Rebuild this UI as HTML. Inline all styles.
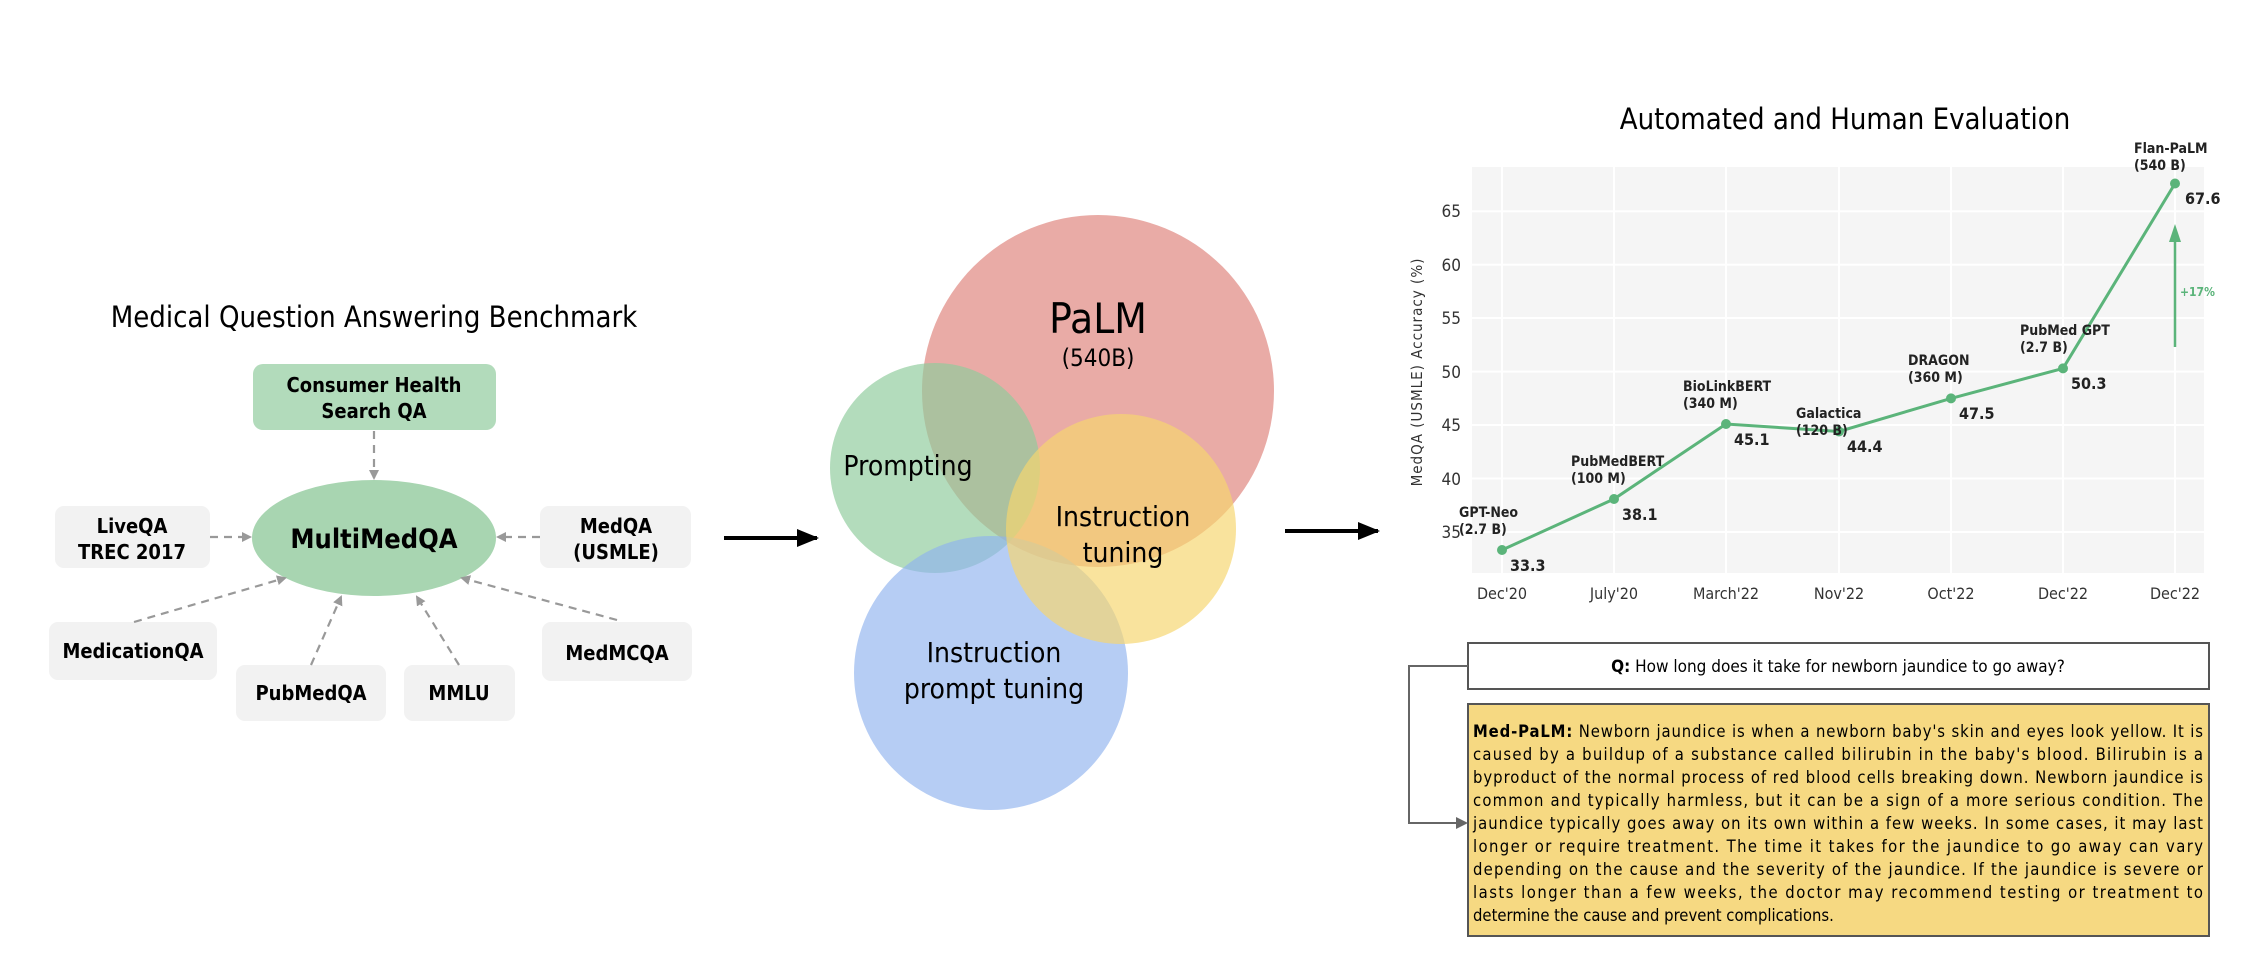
<!DOCTYPE html>
<html><head><meta charset="utf-8"><style>
html,body{margin:0;padding:0;background:#fff;}
svg{display:block;}
text{font-family:"DejaVu Sans Condensed","DejaVu Sans","Liberation Sans",sans-serif;}
</style></head><body>
<svg width="2256" height="960" viewBox="0 0 2256 960" xmlns="http://www.w3.org/2000/svg">
<defs>
<marker id="ga" markerWidth="10" markerHeight="10" refX="8" refY="5" orient="auto" markerUnits="userSpaceOnUse"><path d="M0,0 L10,5 L0,10 z" fill="#999"/></marker>
<marker id="ka" markerWidth="22" markerHeight="18" refX="20" refY="9" orient="auto" markerUnits="userSpaceOnUse"><path d="M0,0 L22,9 L0,18 z" fill="#000"/></marker>
<marker id="dk" markerWidth="12" markerHeight="12" refX="10" refY="6" orient="auto" markerUnits="userSpaceOnUse"><path d="M0,0 L12,6 L0,12 z" fill="#666"/></marker>
</defs>

<!-- Left panel -->
<text x="374" y="327" font-size="29" text-anchor="middle" fill="#000">Medical Question Answering Benchmark</text>
<rect x="253" y="364" width="243" height="66" rx="10" fill="#b2dbbb"/>
<text x="374" y="392" font-size="20" font-weight="bold" text-anchor="middle">Consumer Health</text>
<text x="374" y="418" font-size="20" font-weight="bold" text-anchor="middle">Search QA</text>
<ellipse cx="374" cy="538" rx="122" ry="58" fill="#a8d5b1"/>
<text x="374" y="548" font-size="27" font-weight="bold" text-anchor="middle">MultiMedQA</text>

<g fill="#f2f2f2">
<rect x="55" y="506" width="155" height="62" rx="9"/>
<rect x="540" y="506" width="151" height="62" rx="9"/>
<rect x="49" y="622" width="168" height="58" rx="9"/>
<rect x="236" y="665" width="150" height="56" rx="9"/>
<rect x="404" y="665" width="111" height="56" rx="9"/>
<rect x="542" y="622" width="150" height="59" rx="9"/>
</g>
<g font-size="20" font-weight="bold" text-anchor="middle">
<text x="132" y="533">LiveQA</text><text x="132" y="559">TREC 2017</text>
<text x="616" y="533">MedQA</text><text x="616" y="559">(USMLE)</text>
<text x="133" y="658">MedicationQA</text>
<text x="311" y="700">PubMedQA</text>
<text x="459" y="700">MMLU</text>
<text x="617" y="660">MedMCQA</text>
</g>
<g stroke="#999" stroke-width="2.2" stroke-dasharray="8,6" fill="none" marker-end="url(#ga)">
<line x1="374" y1="431" x2="374" y2="478"/>
<line x1="210" y1="537" x2="250" y2="537"/>
<line x1="540" y1="537" x2="498" y2="537"/>
<line x1="134" y1="622" x2="285" y2="578"/>
<line x1="311" y1="665" x2="341" y2="597"/>
<line x1="459" y1="665" x2="417" y2="597"/>
<line x1="617" y1="620" x2="462" y2="578"/>
</g>
<line x1="724" y1="538" x2="817" y2="538" stroke="#000" stroke-width="4" marker-end="url(#ka)"/>

<!-- Venn -->
<circle cx="1098" cy="391" r="176" fill="#e08a84" fill-opacity="0.72"/>
<circle cx="935" cy="468" r="105" fill="#8fcb9c" fill-opacity="0.68"/>
<circle cx="991" cy="673" r="137" fill="#8fb2ee" fill-opacity="0.65"/>
<circle cx="1121" cy="529" r="115" fill="#f6d56e" fill-opacity="0.68"/>
<text x="1098" y="333" font-size="42" text-anchor="middle">PaLM</text>
<text x="1098" y="366" font-size="24" text-anchor="middle">(540B)</text>
<text x="908" y="475" font-size="28" text-anchor="middle">Prompting</text>
<text x="1123" y="526" font-size="28" text-anchor="middle">Instruction</text>
<text x="1123" y="562" font-size="28" text-anchor="middle">tuning</text>
<text x="994" y="662" font-size="28" text-anchor="middle">Instruction</text>
<text x="994" y="698" font-size="28" text-anchor="middle">prompt tuning</text>
<line x1="1285" y1="531" x2="1378" y2="531" stroke="#000" stroke-width="4" marker-end="url(#ka)"/>

<!-- Chart -->
<text x="1845" y="129" font-size="29" text-anchor="middle">Automated and Human Evaluation</text>
<rect x="1472" y="167" width="732" height="406" fill="#f5f5f5"/>
<g stroke="#fff" stroke-width="2">
<line x1="1472" x2="2204" y1="532" y2="532"/><line x1="1472" x2="2204" y1="478.5" y2="478.5"/>
<line x1="1472" x2="2204" y1="425" y2="425"/><line x1="1472" x2="2204" y1="371.6" y2="371.6"/>
<line x1="1472" x2="2204" y1="318" y2="318"/><line x1="1472" x2="2204" y1="264.7" y2="264.7"/>
<line x1="1472" x2="2204" y1="211.3" y2="211.3"/>
<line x1="1502" x2="1502" y1="167" y2="573"/><line x1="1614" x2="1614" y1="167" y2="573"/>
<line x1="1726" x2="1726" y1="167" y2="573"/><line x1="1839" x2="1839" y1="167" y2="573"/>
<line x1="1951" x2="1951" y1="167" y2="573"/><line x1="2063" x2="2063" y1="167" y2="573"/>
<line x1="2175" x2="2175" y1="167" y2="573"/>
</g>
<g font-size="17" fill="#333" text-anchor="end">
<text x="1461" y="538">35</text><text x="1461" y="485">40</text><text x="1461" y="431">45</text>
<text x="1461" y="378">50</text><text x="1461" y="324">55</text><text x="1461" y="271">60</text><text x="1461" y="217">65</text>
</g>
<text transform="translate(1422,372) rotate(-90)" font-size="15" fill="#333" text-anchor="middle" letter-spacing="1">MedQA (USMLE) Accuracy (%)</text>
<g font-size="16" fill="#333" text-anchor="middle">
<text x="1502" y="599">Dec'20</text><text x="1614" y="599">July'20</text><text x="1726" y="599">March'22</text>
<text x="1839" y="599">Nov'22</text><text x="1951" y="599">Oct'22</text><text x="2063" y="599">Dec'22</text><text x="2175" y="599">Dec'22</text>
</g>
<polyline points="1502,550 1614,499 1726,424 1839,431.5 1951,398.4 2063,368.4 2175,183.5" fill="none" stroke="#5bb47a" stroke-width="3"/>
<g fill="#5bb47a">
<circle cx="1502" cy="550" r="5"/><circle cx="1614" cy="499" r="5"/><circle cx="1726" cy="424" r="5"/>
<circle cx="1839" cy="431.5" r="5"/><circle cx="1951" cy="398.4" r="5"/><circle cx="2063" cy="368.4" r="5"/><circle cx="2175" cy="183.5" r="5"/>
</g>
<line x1="2175" y1="347" x2="2175" y2="240" stroke="#5bb47a" stroke-width="2.5"/>
<path d="M2169,242 L2175,224 L2181,242 z" fill="#5bb47a"/>
<text x="2180" y="296" font-size="12" font-weight="bold" fill="#5bb47a">+17%</text>
<g font-size="14" font-weight="bold" fill="#222">
<text x="1459" y="517">GPT-Neo</text><text x="1459" y="534">(2.7 B)</text>
<text x="1571" y="466">PubMedBERT</text><text x="1571" y="483">(100 M)</text>
<text x="1683" y="391">BioLinkBERT</text><text x="1683" y="408">(340 M)</text>
<text x="1796" y="418">Galactica</text><text x="1796" y="435">(120 B)</text>
<text x="1908" y="365">DRAGON</text><text x="1908" y="382">(360 M)</text>
<text x="2020" y="335">PubMed GPT</text><text x="2020" y="352">(2.7 B)</text>
<text x="2134" y="153">Flan-PaLM</text><text x="2134" y="170">(540 B)</text>
</g>
<g font-size="16" font-weight="bold" fill="#222">
<text x="1510" y="571">33.3</text><text x="1622" y="520">38.1</text><text x="1734" y="445">45.1</text>
<text x="1847" y="452">44.4</text><text x="1959" y="419">47.5</text><text x="2071" y="389">50.3</text><text x="2185" y="204">67.6</text>
</g>

<!-- QA -->
<rect x="1468" y="643" width="741" height="46" fill="#fff" stroke="#555" stroke-width="2"/>
<text x="1838" y="672" font-size="17" text-anchor="middle"><tspan font-weight="bold">Q:</tspan> How long does it take for newborn jaundice to go away?</text>
<rect x="1468" y="704" width="741" height="232" fill="#f6d982" stroke="#555" stroke-width="2"/>
<polyline points="1468,666 1409,666 1409,823 1466,823" fill="none" stroke="#666" stroke-width="2" marker-end="url(#dk)"/>
<g font-size="16.5" fill="#000">
<text x="1473" y="737" textLength="730" lengthAdjust="spacing"><tspan font-weight="bold">Med-PaLM:</tspan> Newborn jaundice is when a newborn baby's skin and eyes look yellow. It is</text>
<text x="1473" y="760" textLength="730" lengthAdjust="spacing">caused by a buildup of a substance called bilirubin in the baby's blood. Bilirubin is a</text>
<text x="1473" y="783" textLength="730" lengthAdjust="spacing">byproduct of the normal process of red blood cells breaking down. Newborn jaundice is</text>
<text x="1473" y="806" textLength="730" lengthAdjust="spacing">common and typically harmless, but it can be a sign of a more serious condition. The</text>
<text x="1473" y="829" textLength="730" lengthAdjust="spacing">jaundice typically goes away on its own within a few weeks. In some cases, it may last</text>
<text x="1473" y="852" textLength="730" lengthAdjust="spacing">longer or require treatment. The time it takes for the jaundice to go away can vary</text>
<text x="1473" y="875" textLength="730" lengthAdjust="spacing">depending on the cause and the severity of the jaundice. If the jaundice is severe or</text>
<text x="1473" y="898" textLength="730" lengthAdjust="spacing">lasts longer than a few weeks, the doctor may recommend testing or treatment to</text>
<text x="1473" y="921">determine the cause and prevent complications.</text>
</g>
<text x="1510" y="980" font-size="26" font-weight="bold" fill="#000">Med-PaLM performance vs. clinicians</text>
</svg>
</body></html>
